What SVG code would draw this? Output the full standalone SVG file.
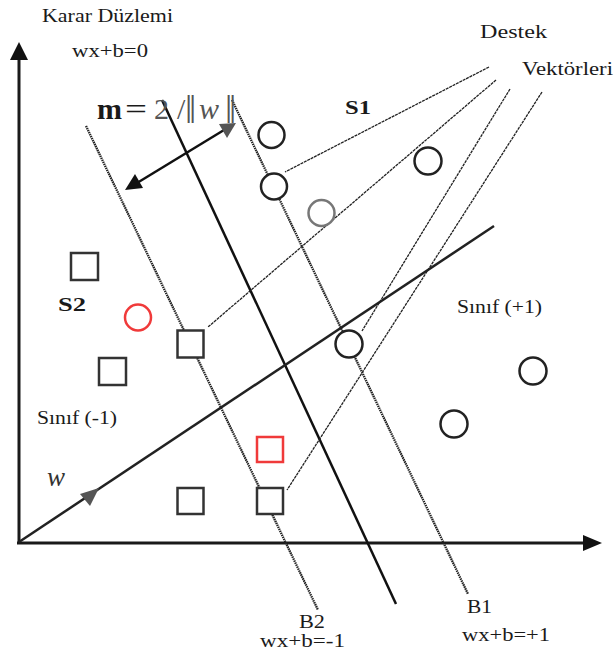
<svg xmlns="http://www.w3.org/2000/svg" width="614" height="655" viewBox="0 0 614 655">
<defs>
<style>
.t{font-family:"Liberation Serif","Times New Roman",serif}
.k{fill:#1a1a1a}
.g{fill:#555}
.f19{font-size:19px}
.f18{font-size:18px}
.f17{font-size:17px}
.f30{font-size:30px}
.b{font-weight:bold}
.i{font-style:italic}
.axis{stroke:#1a1a1a;stroke-width:3;fill:none}
.dec{stroke:#111;stroke-width:2.5;fill:none}
.marg{stroke:#222;stroke-width:2.3;stroke-dasharray:1.5 0.7;fill:none}
.sv{stroke:#222;stroke-width:1.3;stroke-dasharray:3 0.8;fill:none}
.circ{fill:#fff;stroke:#222;stroke-width:2.5}
.sq{fill:#fff;stroke:#333;stroke-width:2.5}
.red{stroke:#f03a3a}
.gry{stroke:#777}
</style>
</defs>
<rect width="614" height="655" fill="#fff"/>
<g id="connectors">
<line class="axis" x1="19" y1="543" x2="19" y2="58"/>
<polygon points="19,42 10,60 28,60" fill="#111"/>
<line class="axis" x1="17" y1="543" x2="585" y2="543"/>
<polygon points="602,543 583,535 583,551" fill="#111"/>
<line class="dec" x1="162" y1="100" x2="396" y2="604"/>
<line class="marg" x1="232" y1="100" x2="468" y2="594"/>
<line class="marg" x1="86" y1="126" x2="318" y2="610"/>
<line x1="19" y1="542" x2="494" y2="226" stroke="#222" stroke-width="2.5"/>
<polygon points="99,488 80,494 90,506" fill="#555"/>
<line x1="137" y1="183" x2="224" y2="130" stroke="#111" stroke-width="2.5"/>
<polygon points="125,190 135,174 143,188" fill="#111"/>
<polygon points="236,123 219,124 227,138" fill="#555"/>
<line class="sv" x1="489" y1="67" x2="285" y2="172"/>
<line class="sv" x1="496" y1="80" x2="208" y2="327"/>
<line class="sv" x1="510" y1="89" x2="362" y2="331"/>
<line class="sv" x1="542" y1="92" x2="287" y2="490"/>
</g>
<g id="c1"><circle class="circ" cx="271.5" cy="135" r="13"/></g>
<g id="c2"><circle class="circ" cx="274" cy="186.5" r="13"/></g>
<g id="c3"><circle class="circ gry" cx="321.5" cy="213" r="13"/></g>
<g id="c4"><circle class="circ" cx="428" cy="161" r="13.5"/></g>
<g id="c5"><circle class="circ" cx="349" cy="344" r="13.5"/></g>
<g id="c6"><circle class="circ" cx="533" cy="371" r="13.5"/></g>
<g id="c7"><circle class="circ" cx="454" cy="424" r="13.5"/></g>
<g id="c8"><circle class="circ red" cx="138" cy="317.5" r="13"/></g>
<g id="s1"><rect class="sq" x="71" y="253" width="27" height="27"/></g>
<g id="s2"><rect class="sq" x="99" y="358" width="27" height="27"/></g>
<g id="s3"><rect class="sq" x="177.5" y="330.5" width="26" height="27"/></g>
<g id="s4"><rect class="sq red" x="257" y="437" width="26" height="25"/></g>
<g id="s5"><rect class="sq" x="177.5" y="488" width="26" height="26"/></g>
<g id="s6"><rect class="sq" x="257" y="488" width="26" height="26"/></g>
<g id="labels">
<text class="t k f18" x="42" y="22" textLength="131" lengthAdjust="spacingAndGlyphs">Karar Düzlemi</text>
<text class="t k f18" x="72" y="57" textLength="76" lengthAdjust="spacingAndGlyphs">wx+b=0</text>
<text class="t k f19" x="480" y="38" textLength="67" lengthAdjust="spacingAndGlyphs">Destek</text>
<text class="t k f19" x="522" y="75" textLength="91" lengthAdjust="spacingAndGlyphs">Vektörleri</text>
<text class="t k b" x="345" y="114" style="font-size:19px" textLength="26" lengthAdjust="spacingAndGlyphs">S1</text>
<text class="t k b" x="58" y="311" style="font-size:19px" textLength="28" lengthAdjust="spacingAndGlyphs">S2</text>
<text class="t k f19" x="457" y="313" textLength="85" lengthAdjust="spacingAndGlyphs">Sınıf (+1)</text>
<text class="t k f19" x="37" y="424" textLength="80" lengthAdjust="spacingAndGlyphs">Sınıf (-1)</text>
<text class="t i" x="47" y="486" style="font-size:27px;fill:#333">w</text>
<text class="t k f19" x="299" y="628" textLength="26" lengthAdjust="spacingAndGlyphs">B2</text>
<text class="t k f19" x="260" y="647" textLength="85" lengthAdjust="spacingAndGlyphs">wx+b=-1</text>
<text class="t k f19" x="467" y="613" textLength="25" lengthAdjust="spacingAndGlyphs">B1</text>
<text class="t k f19" x="462" y="641" textLength="88" lengthAdjust="spacingAndGlyphs">wx+b=+1</text>
<text class="t k f30 b" x="97" y="119">m</text>
<text class="t k f30" x="125" y="119" textLength="22" lengthAdjust="spacingAndGlyphs">=</text>
<text class="t g f30" x="154" y="119">2</text>
<text class="t g f30" x="177" y="119">/</text>
<text class="t g" x="185" y="123" style="font-size:40px">‖</text>
<text class="t g f30 i" x="199" y="119">w</text>
<text class="t g" x="225" y="123" style="font-size:40px">‖</text>
</g>
</svg>
